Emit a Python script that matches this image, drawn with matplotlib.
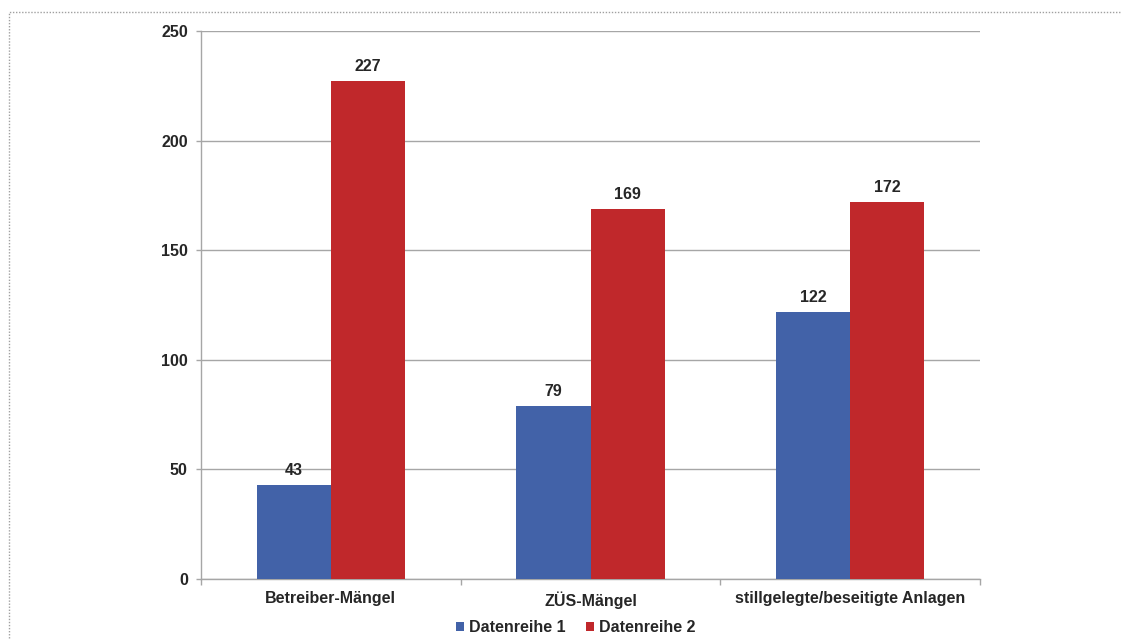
import matplotlib.pyplot as plt
import numpy as np
from matplotlib.patches import Rectangle

categories = ["Betreiber-Mängel", "ZÜS-Mängel", "stillgelegte/beseitigte Anlagen"]
series_names = ["Datenreihe 1", "Datenreihe 2"]
series1 = [43, 79, 122]
series2 = [227, 169, 172]
yticks = [0, 50, 100, 150, 200, 250]

blue = "#4262A8"
red = "#C0282B"
grid = "#A6A6A6"
text_col = "#262626"

plt.rcParams["font.family"] = ["Liberation Sans", "DejaVu Sans"]
plt.rcParams["font.weight"] = "bold"

fig = plt.figure(figsize=(11.22, 6.39), dpi=100)
W, H = 1122, 639
ax = fig.add_axes([201 / W, 1 - 579 / H, (980 - 201) / W, (579 - 31) / H])

x = np.arange(len(categories))
bw = 0.285
b1 = ax.bar(x - bw / 2, series1, bw, color=blue, label=series_names[0], zorder=3)
b2 = ax.bar(x + bw / 2, series2, bw, color=red, label=series_names[1], zorder=3)

for bars, vals in ((b1, series1), (b2, series2)):
    for rect, v in zip(bars, vals):
        ax.annotate(str(v), (rect.get_x() + rect.get_width() / 2, v),
                    xytext=(0, 5), textcoords="offset points",
                    ha="center", va="bottom", fontsize=11.5,
                    fontweight="bold", color=text_col)

ax.set_xlim(-0.5, len(categories) - 0.5)
ax.set_ylim(0, 250)
ax.set_yticks(yticks)
ax.set_yticklabels([str(t) for t in yticks], fontsize=11.5, fontweight="bold", color=text_col)
ax.yaxis.grid(True, color=grid, linewidth=1.0, zorder=0)
ax.set_axisbelow(True)

ax.set_xticks(x)
ax.set_xticklabels(categories, fontsize=11.5, fontweight="bold", color=text_col)
ax.tick_params(axis="x", length=0, pad=9)
ax.set_xticks(np.arange(len(categories) + 1) - 0.5, minor=True)
ax.tick_params(axis="x", which="minor", length=4, color=grid, width=1)
ax.tick_params(axis="y", length=3.5, color=grid, width=1, pad=6)

for side in ("top", "right"):
    ax.spines[side].set_visible(False)
for side in ("left", "bottom"):
    ax.spines[side].set_color(grid)
    ax.spines[side].set_linewidth(1.0)

leg = fig.legend(loc="center", bbox_to_anchor=(576 / W, 1 - 628 / H), ncol=2,
                 frameon=False, fontsize=11.5, handlelength=0.5, handleheight=0.5,
                 handletextpad=0.3, columnspacing=1.3)
for t in leg.get_texts():
    t.set_color(text_col)
    t.set_fontweight("bold")

# dotted frame around the chart area
fig.patches.append(Rectangle((9 / W, -0.05), 1.2, 1 - 12 / H + 0.05,
                             transform=fig.transFigure, fill=False,
                             edgecolor="#A0A0A0", linestyle=(0, (1, 1.2)),
                             linewidth=1.0))

fig.savefig("out.png", dpi=100)
